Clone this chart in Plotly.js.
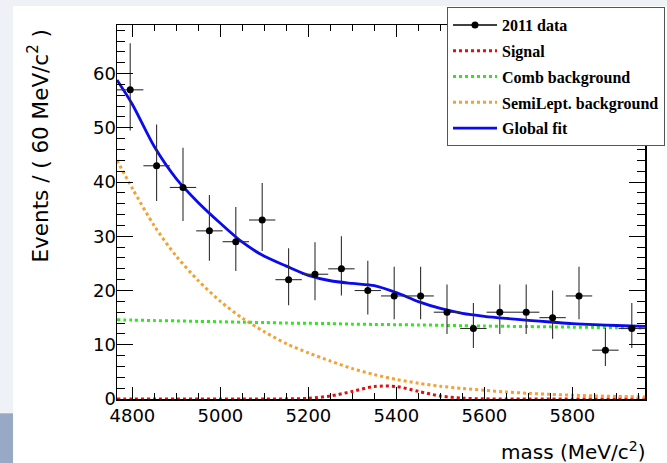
<!DOCTYPE html>
<html>
<head>
<meta charset="utf-8">
<script src="https://cdn.plot.ly/plotly-3.0.1.min.js"></script>
<style>
  html, body { margin: 0; padding: 0; background: #ffffff; }
  #chart { width: 667px; height: 463px; }
</style>
</head>
<body>
<div id="chart"></div>
<script>
// ---- data ----
const binCenters = [4795, 4855, 4915, 4975, 5035, 5095, 5155, 5215, 5275, 5335,
                    5395, 5455, 5515, 5575, 5635, 5695, 5755, 5815, 5875, 5935];
const counts     = [57, 43, 39, 31, 29, 33, 22, 23, 24, 20,
                    19, 19, 16, 13, 16, 16, 15, 19, 9, 13];
const errHigh    = [8.6, 7.6, 7.3, 6.6, 6.4, 6.8, 5.8, 5.9, 6.0, 5.5,
                    5.4, 5.4, 5.1, 4.7, 5.1, 5.1, 5.0, 5.4, 4.1, 4.7];
const errLow     = [7.5, 6.5, 6.2, 5.5, 5.4, 5.7, 4.7, 4.8, 4.9, 4.4,
                    4.3, 4.3, 4.0, 3.6, 4.0, 4.0, 3.9, 4.3, 2.9, 3.6];
const halfBin = 30;

const curveMass  = [4765, 4800, 4850, 4900, 4950, 5000, 5050, 5100, 5150, 5200,
                    5250, 5300, 5350, 5400, 5450, 5500, 5550, 5600, 5650, 5700,
                    5750, 5800, 5850, 5900, 5965];
const globalFit  = [58.8, 54.3, 46.5, 40.6, 36.2, 32.4, 28.9, 26.3, 24.5, 22.8,
                    21.8, 21.3, 20.9, 19.6, 17.95, 16.7, 15.8, 15.25, 14.85, 14.5,
                    14.2, 13.9, 13.7, 13.55, 13.4];
const semiLept   = [44.0, 38.8, 31.9, 26.3, 21.8, 18.0, 14.9, 12.4, 10.2, 8.5,
                    7.0, 5.6, 4.5, 3.6, 2.9, 2.35, 1.95, 1.6, 1.3, 1.05,
                    0.85, 0.7, 0.57, 0.47, 0.37];
const combBkg    = [14.6, 14.55, 14.45, 14.4, 14.3, 14.25, 14.15, 14.1, 14.0, 13.95,
                    13.9, 13.8, 13.75, 13.7, 13.65, 13.6, 13.5, 13.45, 13.4, 13.35,
                    13.3, 13.25, 13.2, 13.15, 13.1];
const signal     = [0, 0, 0, 0, 0, 0, 0, 0, 0.02, 0.13,
                    0.55, 1.4, 2.3, 2.3, 1.4, 0.55, 0.15, 0.03, 0, 0,
                    0, 0, 0, 0, 0];

const xRange = [4765, 5965];
const yRange = [0, 68.95];

const legendNames = ['2011 data', 'Signal', 'Comb background', 'SemiLept. background', 'Global fit'];

// ---- page frame (paper coordinates) ----
const L = 117, R = 645, T = 25, B = 398.7;
const px = p => (p - L) / (R - L);
const py = p => (B - p) / (B - T);

const traces = [
  {
    x: curveMass, y: signal, type: 'scatter', mode: 'lines', name: legendNames[1],
    line: {color: '#e01010', width: 3, dash: 'dot', shape: 'spline', smoothing: 0.8},
    legendgroup: 'g2', legendrank: 2, hoverinfo: 'skip'
  },
  {
    x: curveMass, y: semiLept, type: 'scatter', mode: 'lines', name: legendNames[3],
    line: {color: '#f5a030', width: 3, dash: 'dot', shape: 'spline', smoothing: 0.8},
    legendgroup: 'g4', legendrank: 4, hoverinfo: 'skip'
  },
  {
    x: curveMass, y: combBkg, type: 'scatter', mode: 'lines', name: legendNames[2],
    line: {color: '#2ee81a', width: 3, dash: 'dot', shape: 'spline', smoothing: 0.8},
    legendgroup: 'g3', legendrank: 3, hoverinfo: 'skip'
  },
  {
    x: curveMass, y: globalFit, type: 'scatter', mode: 'lines', name: legendNames[4],
    line: {color: '#0a0aee', width: 2.8, shape: 'spline', smoothing: 0.8},
    legendgroup: 'g5', legendrank: 5, hoverinfo: 'skip'
  },
  {
    x: binCenters, y: counts, type: 'scatter', mode: 'markers', name: legendNames[0],
    marker: {color: '#000000', size: 7},
    error_y: {type: 'data', symmetric: false, array: errHigh, arrayminus: errLow,
              color: '#303030', thickness: 1.1, width: 0},
    error_x: {type: 'constant', value: halfBin, color: '#303030', thickness: 1.1, width: 0},
    showlegend: false, legendgroup: 'g1'
  },
  {
    x: [null], y: [null], type: 'scatter', mode: 'lines+markers', name: legendNames[0],
    line: {color: '#000000', width: 1.5}, marker: {color: '#000000', size: 7},
    legendgroup: 'g1', legendrank: 1, hoverinfo: 'skip'
  }
];

const tickFont = {family: 'DejaVu Sans', size: 18, color: '#000000'};

const layout = {
  width: 667, height: 463,
  margin: {l: L, r: 667 - R, t: T, b: 463 - B, pad: 0, autoexpand: false},
  paper_bgcolor: '#ffffff', plot_bgcolor: '#ffffff',
  showlegend: true,
  xaxis: {
    range: xRange, tick0: 4800, dtick: 200, ticks: 'inside', ticklen: 12, tickwidth: 1,
    tickcolor: '#000000', showline: true, linecolor: '#000000', linewidth: 1.5, mirror: 'ticks',
    showgrid: false, zeroline: false, tickfont: tickFont,
    minor: {dtick: 50, tick0: 4800, ticks: 'inside', ticklen: 6, tickwidth: 1, tickcolor: '#000000', showgrid: false}
  },
  yaxis: {
    range: yRange, tick0: 0, dtick: 10, ticks: 'inside', ticklen: 16, tickwidth: 1,
    tickcolor: '#000000', showline: true, linecolor: '#000000', linewidth: 1.5, mirror: 'ticks',
    showgrid: false, zeroline: false, tickfont: tickFont, ticklabelstandoff: -4,
    minor: {dtick: 2, tick0: 0, ticks: 'inside', ticklen: 8, tickwidth: 1, tickcolor: '#000000', showgrid: false}
  },
  legend: {
    x: px(447), y: py(7), xanchor: 'left', yanchor: 'top',
    bgcolor: '#ffffff', bordercolor: '#555555', borderwidth: 1,
    font: {family: 'Liberation Serif', size: 16, color: '#000000', weight: 'bold'},
    traceorder: 'grouped', tracegroupgap: 2, itemwidth: 44
  },
  annotations: [
    {
      xref: 'paper', yref: 'paper', x: px(647), y: py(451), xanchor: 'right', yanchor: 'middle',
      text: 'mass (MeV/c<sup>2</sup>)', showarrow: false,
      font: {family: 'DejaVu Sans', size: 20, color: '#000000'}
    },
    {
      xref: 'paper', yref: 'paper', x: px(38), y: py(28), xanchor: 'center', yanchor: 'top',
      text: 'Events / ( 60 MeV/c<sup>2</sup> )', showarrow: false, textangle: -90,
      font: {family: 'DejaVu Sans', size: 21.5, color: '#000000'}
    }
  ],
  shapes: [
    {type: 'rect', xref: 'paper', yref: 'paper', layer: 'below', line: {width: 0},
     x0: px(0), x1: px(667), y0: py(6), y1: py(0), fillcolor: '#eef2f7'},
    {type: 'rect', xref: 'paper', yref: 'paper', layer: 'below', line: {width: 0},
     x0: px(0), x1: px(13), y0: py(463), y1: py(0), fillcolor: '#eef2f7'},
    {type: 'rect', xref: 'paper', yref: 'paper', layer: 'below', line: {width: 0},
     x0: px(0), x1: px(13), y0: py(463), y1: py(413), fillcolor: '#97a9c4'}
  ]
};

Plotly.newPlot('chart', traces, layout, {displayModeBar: false, staticPlot: true});
</script>
</body>
</html>
